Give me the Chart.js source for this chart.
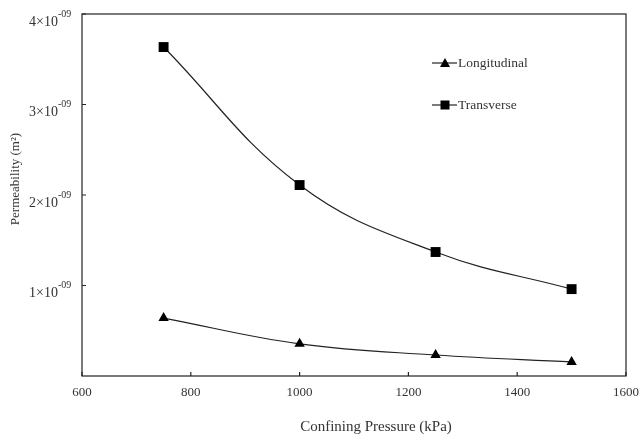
<!DOCTYPE html>
<html>
<head>
<meta charset="utf-8">
<script src="https://cdn.jsdelivr.net/npm/chart.js@4"></script>
<style>
  html, body { margin: 0; padding: 0; background: #fff; }
  #wrap { width: 640px; height: 440px; position: relative; }
</style>
</head>
<body>
<div id="wrap"><canvas id="grafica" width="640" height="440"></canvas></div>
<script>
// data
let presion = [750, 1000, 1250, 1500];
let longitudinal = [0.64e-9, 0.355e-9, 0.232e-9, 0.155e-9];
let transversal = [3.635e-9, 2.11e-9, 1.37e-9, 0.96e-9];
let ticksX = [600, 800, 1000, 1200, 1400, 1600];
let ticksY = [1, 2, 3, 4];

const serif = "'Liberation Serif', 'Times New Roman', serif";
const gris = "#333";

// box, tick marks, tick labels, titles and legend
let dibujo = {
    id: "dibujo",
    afterDraw(chart) {
        let c = chart.ctx;
        let a = chart.chartArea;
        let sx = chart.scales.x, sy = chart.scales.y;
        c.save();
        c.strokeStyle = "#222";
        c.lineWidth = 1.2;
        c.strokeRect(a.left, a.top, a.right - a.left, a.bottom - a.top);

        // tick marks pointing inward
        c.beginPath();
        ticksX.forEach(v => {
            let px = sx.getPixelForValue(v);
            c.moveTo(px, a.bottom);
            c.lineTo(px, a.bottom - 4);
        });
        ticksY.forEach(v => {
            let py = sy.getPixelForValue(v * 1e-9);
            c.moveTo(a.left, py);
            c.lineTo(a.left + 4, py);
        });
        c.stroke();

        c.fillStyle = gris;
        c.font = "13px " + serif;
        c.textAlign = "center";
        c.textBaseline = "middle";
        ticksX.forEach(v => {
            c.fillText(String(v), sx.getPixelForValue(v), 393);
        });

        ticksY.forEach(v => {
            let py = sy.getPixelForValue(v * 1e-9);
            c.font = "14px " + serif;
            c.textAlign = "right";
            c.fillText(v + "×10", 58, py + 8);
            c.font = "10px " + serif;
            c.textAlign = "left";
            c.fillText("-09", 58, py);
        });

        c.font = "15px " + serif;
        c.textAlign = "center";
        c.fillText("Confining Pressure (kPa)", 376, 427);
        c.save();
        c.font = "13px " + serif;
        c.translate(16, 179);
        c.rotate(-Math.PI / 2);
        c.fillText("Permeability (m²)", 0, 0);
        c.restore();

        // legend
        let items = [
            { txt: "Longitudinal", y: 63, estilo: "triangle" },
            { txt: "Transverse", y: 105, estilo: "rect" }
        ];
        items.forEach(it => {
            c.strokeStyle = "#222";
            c.lineWidth = 1.2;
            c.beginPath();
            c.moveTo(432, it.y);
            c.lineTo(457, it.y);
            c.stroke();
            c.fillStyle = "#000";
            c.beginPath();
            if (it.estilo === "triangle") {
                c.moveTo(445, it.y - 5);
                c.lineTo(450, it.y + 4);
                c.lineTo(440, it.y + 4);
                c.closePath();
            } else {
                c.rect(440.5, it.y - 4.5, 9, 9);
            }
            c.fill();
            c.fillStyle = gris;
            c.font = "13.5px " + serif;
            c.textAlign = "left";
            c.fillText(it.txt, 458, it.y);
        });
        c.restore();
    }
};

let ctx = document.getElementById("grafica").getContext("2d");

let grafica = new Chart(ctx, {
    type: "line",
    data: {
        datasets: [{
            label: "Longitudinal",
            data: presion.map((p, i) => ({ x: p, y: longitudinal[i] })),
            borderColor: "#222",
            backgroundColor: "#000",
            borderWidth: 1.2,
            pointStyle: "triangle",
            pointRadius: 6,
            pointBorderWidth: 0,
            tension: 0.4
        }, {
            label: "Transverse",
            data: presion.map((p, i) => ({ x: p, y: transversal[i] })),
            borderColor: "#222",
            backgroundColor: "#000",
            borderWidth: 1.2,
            pointStyle: "rect",
            pointRadius: 7,
            pointBorderWidth: 0,
            tension: 0.4
        }]
    },
    options: {
        responsive: false,
        animation: false,
        layout: { padding: { top: 14, right: 14, left: 0, bottom: 0 } },
        plugins: { legend: { display: false }, tooltip: { enabled: false } },
        scales: {
            x: {
                type: "linear",
                min: 600,
                max: 1600,
                grid: { display: false },
                border: { display: false },
                ticks: { display: false },
                afterFit(s) { s.height = 64; }
            },
            y: {
                min: 0,
                max: 4e-9,
                grid: { display: false },
                border: { display: false },
                ticks: { display: false },
                afterFit(s) { s.width = 82; }
            }
        }
    },
    plugins: [dibujo]
});
</script>
</body>
</html>
